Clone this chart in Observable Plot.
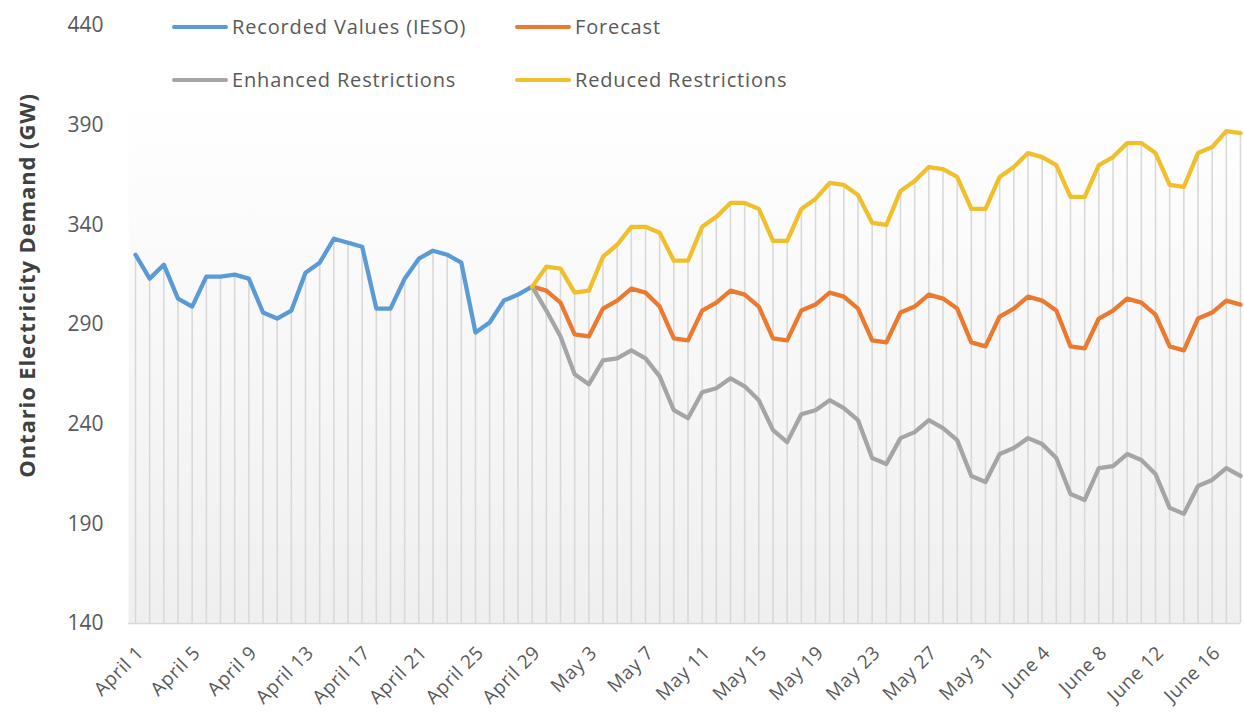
<!DOCTYPE html>
<html><head><meta charset="utf-8">
<script src="https://cdn.jsdelivr.net/npm/d3@7"></script>
<script src="https://cdn.jsdelivr.net/npm/@observablehq/plot@0.6"></script>
<style>
body{margin:0;background:#fff;}
#wrap{position:relative;width:1244px;height:715px;font-family:"Open Sans",sans-serif;color:#595959;}
.leg{position:absolute;display:flex;align-items:center;font-size:20px;letter-spacing:0.85px;color:#595959;white-space:nowrap;}
.leg span.sw{display:inline-block;width:56px;height:4px;border-radius:2px;margin-right:4px;}
</style></head><body><div id="wrap"></div>
<script>
const startDate = "2020-04-01";
const endDate = "2020-06-18";
const seriesNames = ["Recorded Values (IESO)", "Forecast", "Enhanced Restrictions", "Reduced Restrictions"];
const seriesColors = ["#5B9BD5", "#EA7A2F", "#A5A5A5", "#EFBF2C"];
// April 1 .. April 29
const recorded = [325,313,320,303,299,314,314,315,313,296,293,297,316,321,333,331,329,298,298,313,323,327,325,321,286,291,302,305,309];
// April 29 .. June 18
const forecast = [309,307,301,285,284,298,302,308,306,299,283,282,297,301,307,305,299,283,282,297,300,306,304,298,282,281,296,299,305,303,298,281,279,294,298,304,302,297,279,278,293,297,303,301,295,279,277,293,296,302,300];
const enhanced = [309,297,284,265,260,272,273,277,273,264,247,243,256,258,263,259,252,237,231,245,247,252,248,242,223,220,233,236,242,238,232,214,211,225,228,233,230,223,205,202,218,219,225,222,215,198,195,209,212,218,214];
const reduced = [309,319,318,306,307,324,330,339,339,336,322,322,339,344,351,351,348,332,332,348,353,361,360,355,341,340,357,362,369,368,364,348,348,364,369,376,374,370,354,354,370,374,381,381,376,360,359,376,379,387,386];
const tickLabels = ["April 1","April 5","April 9","April 13","April 17","April 21","April 25","April 29","May 3","May 7","May 11","May 15","May 19","May 23","May 27","May 31","June 4","June 8","June 12","June 16"];
const yTicks = [140,190,240,290,340,390,440];
const yTitle = "Ontario Electricity Demand (GW)";

const dates = d3.utcDays(new Date(startDate), d3.utcDay.offset(new Date(endDate), 1));
const fStart = recorded.length - 1;
const rows = [];
recorded.forEach((v,i)=>rows.push({series: seriesNames[0], date: dates[i], value: v}));
[forecast, enhanced, reduced].forEach((arr,k)=>arr.forEach((v,i)=>rows.push({series: seriesNames[k+1], date: dates[fStart+i], value: v})));
const maxByDate = d3.rollups(rows, g=>d3.max(g, d=>d.value), d=>+d.date).map(([t,v])=>({date:new Date(t), value:v}));
const tickDates = dates.filter((d,i)=>i%4===0);
const labelOf = new Map(tickDates.map((d,i)=>[+d, tickLabels[i]]));

const chart = Plot.plot({
  width: 1244, height: 715,
  marginLeft: 135, marginRight: 4, marginTop: 25, marginBottom: 92,
  style: {fontFamily: '"Open Sans", sans-serif', background: "transparent", overflow: "visible"},
  x: {type: "utc", domain: [dates[0], dates[dates.length-1]]},
  y: {domain: [140, 440]},
  color: {domain: seriesNames, range: seriesColors},
  marks: [
    Plot.frame({fill: "url(#bggrad)", stroke: "none", insetLeft: -7}),
    Plot.ruleX(maxByDate, {x: "date", y1: 140, y2: "value", stroke: "#d9d9d9", strokeWidth: 1.6}),
    Plot.ruleY([140], {stroke: "#d9d9d9", strokeWidth: 1.5, insetLeft: -7}),
    Plot.line(rows, {x: "date", y: "value", z: "series", stroke: "series", strokeWidth: 4.3, strokeLinejoin: "round", strokeLinecap: "round"}),
    Plot.axisY({ticks: yTicks, tickSize: 0, tickPadding: 32, fontSize: 21, fill: "#595959", label: null}),
    Plot.axisX({ticks: tickDates, tickFormat: d=>labelOf.get(+d), tickRotate: -45, tickSize: 0, tickPadding: 26, dx: 5, fontSize: 19, fill: "#595959", label: null}),
    Plot.text([yTitle], {frameAnchor: "left", textAnchor: "middle", rotate: -90, dx: -108, dy: -39, fontSize: 22, fontWeight: "bold", fill: "#404040"})
  ]
});
chart.querySelectorAll('[aria-label="x-axis tick label"] text').forEach(t=>t.style.letterSpacing="0.6px");
chart.querySelectorAll('[aria-label="text"] text').forEach(t=>t.style.letterSpacing="0.9px");
const defs = document.createElementNS("http://www.w3.org/2000/svg", "defs");
defs.innerHTML = '<linearGradient id="bggrad" x1="0" y1="0" x2="0" y2="1"><stop offset="0" stop-color="#ffffff"/><stop offset="0.12" stop-color="#ffffff"/><stop offset="1" stop-color="#efefef"/></linearGradient>';
chart.insertBefore(defs, chart.firstChild);
const wrap = document.getElementById("wrap");
wrap.appendChild(chart);
const legendPos = [[172,28],[515,28],[172,81],[515,81]];
seriesNames.forEach((n,i)=>{
  const el = document.createElement("div");
  el.className = "leg";
  el.style.left = legendPos[i][0] + "px";
  el.style.top = (legendPos[i][1] - 15) + "px";
  el.innerHTML = `<span class="sw" style="background:${seriesColors[i]}"></span>${n}`;
  wrap.appendChild(el);
});
</script></body></html>
